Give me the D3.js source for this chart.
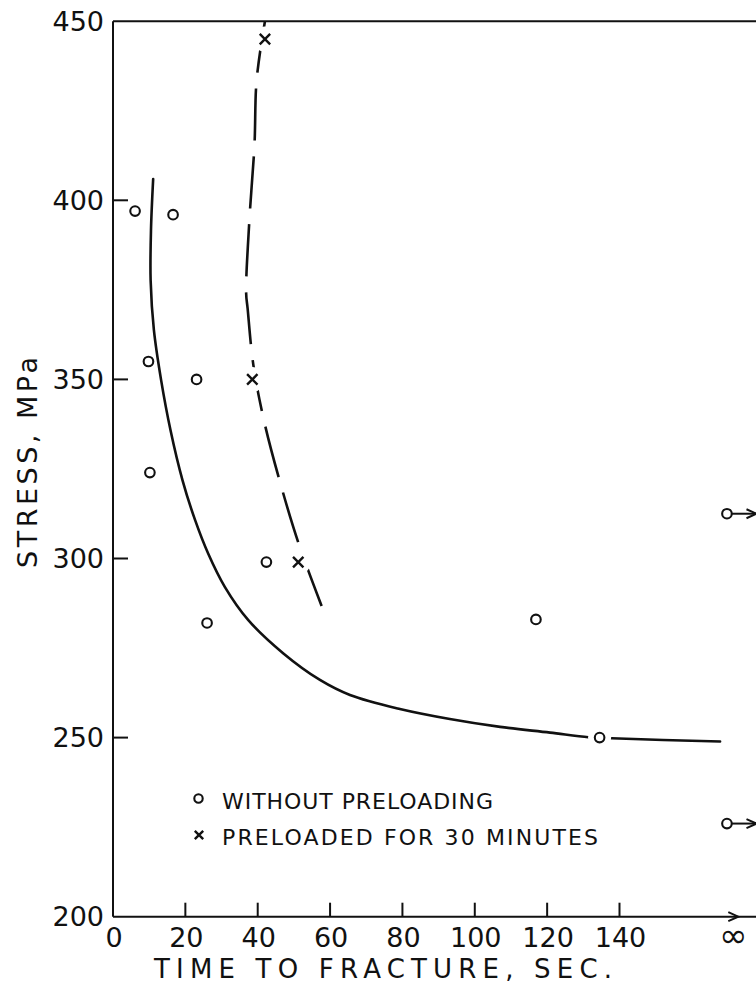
<!DOCTYPE html>
<html>
<head>
<meta charset="utf-8">
<script src="https://cdn.jsdelivr.net/npm/d3@7/dist/d3.min.js"></script>
<style>
  html, body { margin: 0; padding: 0; background: #fff; }
  svg { display: block; }
  text { font-family: "DejaVu Sans", sans-serif; fill: #111; }
</style>
</head>
<body>
<div id="chart"></div>
<script>
  // time to fracture (s) vs stress (MPa)
  const withoutPreloading = [
    { t: 6.1, s: 397 },
    { t: 16.6, s: 396 },
    { t: 9.8, s: 355 },
    { t: 10.2, s: 324 },
    { t: 23.1, s: 350 },
    { t: 42.4, s: 299 },
    { t: 26, s: 282 },
    { t: 116.9, s: 283 },
    { t: 134.5, s: 250 },
  ];
  // specimens that never broke (plotted at infinity)
  const unbroken = [312.5, 226];

  const preloaded = [
    { t: 42, s: 445 },
    { t: 38.5, s: 350 },
    { t: 51.2, s: 299 },
  ];

  const solidCurve = [
    [11.1, 405.9], [10.5, 391.7], [10.4, 377.7], [11.3, 363.8], [13.3, 349.8],
    [15.9, 335.8], [19.2, 321.9], [22.7, 310.7], [26.3, 301.4], [30.9, 292.1],
    [37.4, 282.8], [47.1, 273.5], [57.2, 266.1], [65.5, 261.9], [79.3, 258.0],
    [93.1, 255.2], [107, 253.0], [120.8, 251.4], [131.4, 250.1], [137.8, 249.8],
    [167.8, 248.9],
  ];

  const dashedCurve = [
    [42.0, 450], [39.7, 433.6], [39.1, 415.4], [37.7, 394.5], [36.8, 374.1],
    [37.2, 369.9], [38.8, 354.0], [41.8, 338.2], [46.4, 320.5], [51.5, 303.6],
    [58.1, 285.6],
  ];

  const xTicks = [0, 20, 40, 60, 80, 100, 120, 140];
  const yTicks = [200, 250, 300, 350, 400, 450];
  const infinityT = 169.7;
  const infinityLabelT = 171.5;

  const width = 756;
  const height = 985;

  const svg = d3.select('#chart')
    .append('svg')
    .attr('width', width)
    .attr('height', height);

  const x = d3.scaleLinear().domain([0, 140]).range([113, 619.5]);
  const y = d3.scaleLinear().domain([200, 450]).range([916.7, 21.2]);

  const ink = '#111';

  // frame: left axis, top line, bottom axis
  const axes = svg.append('g')
    .attr('stroke', ink)
    .attr('stroke-width', 2)
    .attr('fill', 'none');

  axes.append('line')
    .attr('x1', x(0)).attr('x2', x(0))
    .attr('y1', y(450)).attr('y2', y(200));
  axes.append('line')
    .attr('x1', x(0)).attr('x2', width)
    .attr('y1', y(450)).attr('y2', y(450));
  axes.append('line')
    .attr('x1', x(0)).attr('x2', width)
    .attr('y1', y(200)).attr('y2', y(200));

  // x axis arrow head
  const arrowTipX = 738.3;
  axes.append('path')
    .attr('d', `M${arrowTipX - 10},${y(200) - 4.5}L${arrowTipX},${y(200)}L${arrowTipX - 10},${y(200) + 4.5}`);

  // ticks
  axes.selectAll('.xtick')
    .data(xTicks.filter((d) => d > 0))
    .join('line')
    .attr('class', 'xtick')
    .attr('x1', (d) => x(d)).attr('x2', (d) => x(d))
    .attr('y1', y(200)).attr('y2', y(200) - 14);

  axes.selectAll('.ytick')
    .data(yTicks.filter((d) => d > 200 && d < 450))
    .join('line')
    .attr('class', 'ytick')
    .attr('x1', x(0)).attr('x2', x(0) + 15)
    .attr('y1', (d) => y(d)).attr('y2', (d) => y(d));

  // tick labels
  svg.append('g')
    .selectAll('text')
    .data(yTicks)
    .join('text')
    .attr('x', 104)
    .attr('y', (d) => y(d))
    .attr('dy', '0.36em')
    .attr('text-anchor', 'end')
    .attr('font-size', 27)
    .text((d) => d);

  svg.append('g')
    .selectAll('text')
    .data(xTicks)
    .join('text')
    .attr('x', (d) => x(d) + 1)
    .attr('y', 947)
    .attr('text-anchor', 'middle')
    .attr('font-size', 27)
    .text((d) => d);

  svg.append('text')
    .attr('x', x(infinityLabelT))
    .attr('y', 947)
    .attr('text-anchor', 'middle')
    .attr('font-size', 34)
    .text('\u221E');

  // axis titles
  svg.append('text')
    .attr('x', 154)
    .attr('y', 978)
    .attr('font-size', 26)
    .attr('textLength', 458)
    .attr('lengthAdjust', 'spacing')
    .text('TIME TO FRACTURE, SEC.');

  svg.append('text')
    .attr('transform', 'translate(37,462.5) rotate(-90)')
    .attr('text-anchor', 'middle')
    .attr('font-size', 27)
    .attr('textLength', 211)
    .attr('lengthAdjust', 'spacing')
    .text('STRESS, MPa');

  // curves
  const line = d3.line()
    .curve(d3.curveCatmullRom.alpha(0.5))
    .x((d) => x(d[0]))
    .y((d) => y(d[1]));

  svg.append('path')
    .datum(solidCurve)
    .attr('fill', 'none')
    .attr('stroke', ink)
    .attr('stroke-width', 2.6)
    .attr('stroke-linecap', 'round')
    .attr('d', line);

  svg.append('path')
    .datum(dashedCurve)
    .attr('fill', 'none')
    .attr('stroke', ink)
    .attr('stroke-width', 2.6)
    .attr('stroke-dasharray', '52 16')
    .attr('d', line);

  // distance (px) from a marker to a curve, measured on its polyline
  const distanceToCurve = (curve, px, py) => {
    let best = Infinity;
    for (let i = 0; i < curve.length - 1; i += 1) {
      const ax = x(curve[i][0]);
      const ay = y(curve[i][1]);
      const bx = x(curve[i + 1][0]);
      const by = y(curve[i + 1][1]);
      const dx = bx - ax;
      const dy = by - ay;
      const len2 = dx * dx + dy * dy || 1;
      const k = Math.max(0, Math.min(1, ((px - ax) * dx + (py - ay) * dy) / len2));
      best = Math.min(best, Math.hypot(ax + k * dx - px, ay + k * dy - py));
    }
    return best;
  };

  const onCurve = (d) => [solidCurve, dashedCurve]
    .some((curve) => distanceToCurve(curve, x(d.t), y(d.s)) < 7);

  // white halos break the curve where a marker sits on it
  const halos = svg.append('g').attr('fill', '#fff');
  halos.selectAll('circle.c')
    .data(withoutPreloading.filter(onCurve))
    .join('circle')
    .attr('class', 'c')
    .attr('cx', (d) => x(d.t))
    .attr('cy', (d) => y(d.s))
    .attr('r', 11.5);
  halos.selectAll('circle.x')
    .data(preloaded.filter(onCurve))
    .join('circle')
    .attr('class', 'x')
    .attr('cx', (d) => x(d.t))
    .attr('cy', (d) => y(d.s))
    .attr('r', 12.5);

  // markers
  const drawCircle = (g, cx, cy, r) => g.append('circle')
    .attr('cx', cx).attr('cy', cy).attr('r', r)
    .attr('fill', '#fff').attr('stroke', ink).attr('stroke-width', 2.1);

  const drawCross = (g, cx, cy, h) => g.append('path')
    .attr('d', `M${cx - h},${cy - h}L${cx + h},${cy + h}M${cx - h},${cy + h}L${cx + h},${cy - h}`)
    .attr('stroke', ink).attr('stroke-width', 2.4).attr('fill', 'none');

  const markers = svg.append('g');
  withoutPreloading.forEach((d) => drawCircle(markers, x(d.t), y(d.s), 4.8));
  preloaded.forEach((d) => drawCross(markers, x(d.t), y(d.s), 5.2));

  // unbroken specimens with arrows to infinity
  unbroken.forEach((s) => {
    const cx = x(infinityT);
    const cy = y(s);
    markers.append('line')
      .attr('x1', cx + 4).attr('x2', width)
      .attr('y1', cy).attr('y2', cy)
      .attr('stroke', ink).attr('stroke-width', 2);
    markers.append('path')
      .attr('d', `M${width - 9.5},${cy - 4.5}L${width + 0.5},${cy}L${width - 9.5},${cy + 4.5}`)
      .attr('fill', 'none').attr('stroke', ink).attr('stroke-width', 2);
    drawCircle(markers, cx, cy, 4.8);
  });

  // legend
  const legend = svg.append('g');
  drawCircle(legend, 198.5, 798.5, 4.2);
  legend.append('text')
    .attr('x', 222).attr('y', 809)
    .attr('font-size', 22)
    .attr('textLength', 271)
    .attr('lengthAdjust', 'spacing')
    .text('WITHOUT PRELOADING');
  drawCross(legend, 199, 835, 4.2);
  legend.append('text')
    .attr('x', 222).attr('y', 845)
    .attr('font-size', 22)
    .attr('textLength', 376)
    .attr('lengthAdjust', 'spacing')
    .text('PRELOADED FOR 30 MINUTES');
</script>
</body>
</html>
